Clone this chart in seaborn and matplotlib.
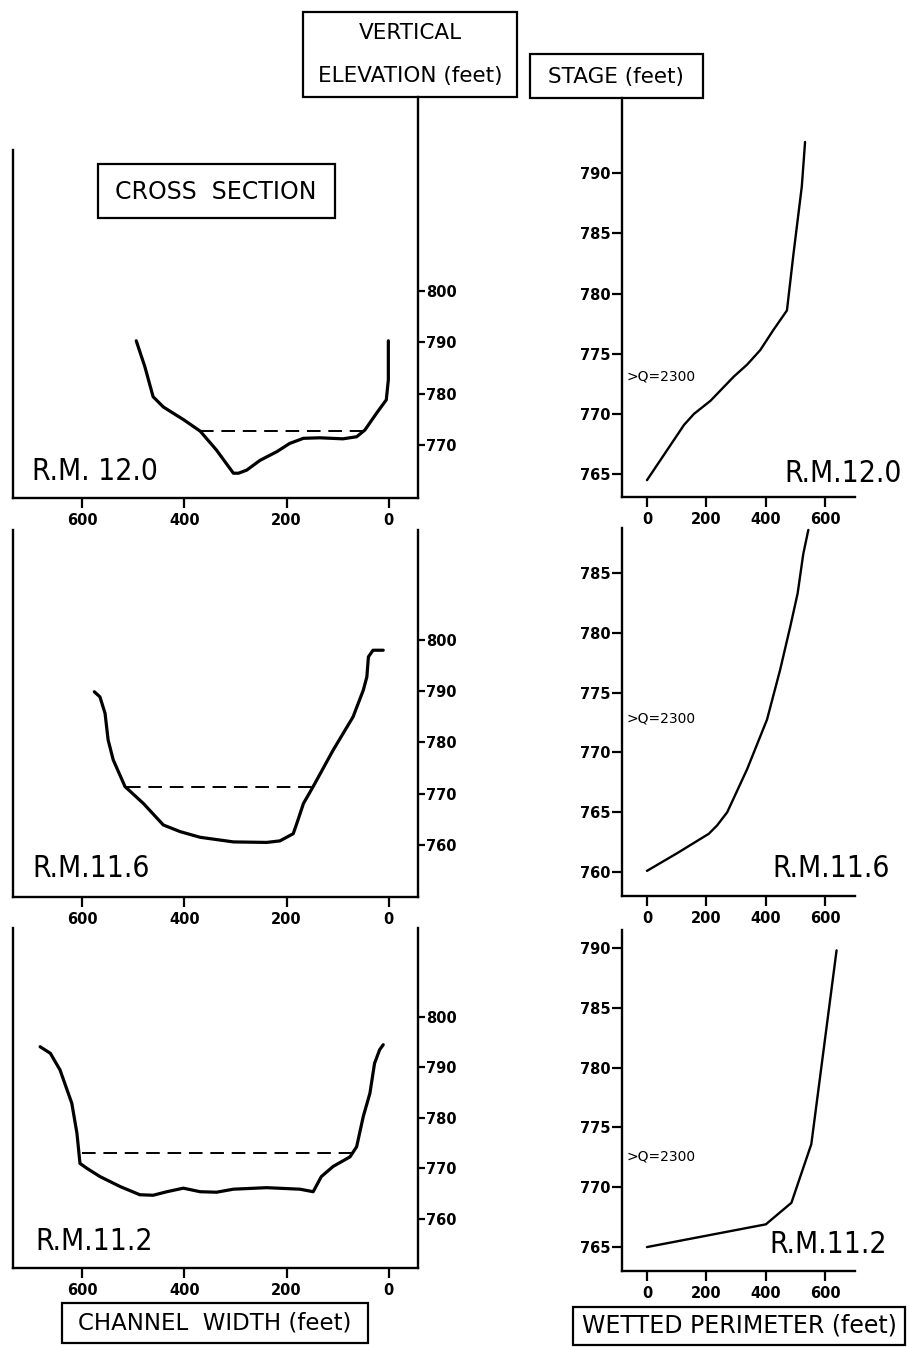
import numpy as np
import pandas as pd
import matplotlib.pyplot as plt
import seaborn as sns
from matplotlib.patches import Rectangle
from matplotlib import font_manager

# cross sections: channel width (ft from right bank) vs elevation (ft)
xs_120_width = [494, 477, 461, 441, 401, 369, 337, 304, 294, 278, 252, 219, 194, 167, 135, 90, 63, 47, 24, 5, 1, 1]
xs_120_elev = [790.3, 785.2, 779.4, 777.4, 774.9, 772.7, 769.0, 764.5, 764.5, 765.1, 767.0, 768.7, 770.3, 771.3,
               771.4, 771.2, 771.6, 772.9, 776.2, 778.8, 782.7, 790.3]
xs_116_width = [576, 565, 555, 549, 539, 516, 480, 441, 408, 369, 304, 239, 213, 187, 180, 167, 148, 109, 70, 50,
                43, 40, 31, 11]
xs_116_elev = [789.9, 788.9, 785.7, 780.5, 776.6, 771.4, 768.1, 763.9, 762.6, 761.5, 760.6, 760.5, 760.8, 762.2,
               764.2, 768.1, 771.4, 778.5, 785.0, 790.2, 792.8, 796.7, 798.0, 798.0]
xs_112_width = [682, 662, 643, 620, 610, 604, 590, 565, 525, 487, 461, 434, 402, 369, 337, 304, 239, 174, 148, 132,
                109, 76, 63, 50, 37, 28, 18, 11]
xs_112_elev = [794.1, 792.8, 789.5, 782.9, 777.0, 771.0, 770.0, 768.4, 766.4, 764.8, 764.7, 765.4, 766.1, 765.4,
               765.3, 765.9, 766.2, 765.9, 765.4, 768.4, 770.4, 772.3, 774.3, 780.3, 784.9, 790.8, 793.5, 794.5]

# water surface at Q = 2300
wl_120_width = [369, 51]
wl_116_width = [512, 151]
wl_112_width = [600, 73]
wl_elev = [772.7, 771.4, 773.0]

# stage vs wetted perimeter
wp_120 = [0, 125, 158, 214, 292, 337, 381, 426, 471, 493, 521, 532]
st_120 = [764.5, 769.1, 770.0, 771.1, 773.1, 774.1, 775.3, 777.0, 778.6, 783.3, 788.9, 792.6]
wp_116 = [0, 103, 208, 236, 270, 337, 404, 448, 482, 507, 526, 543]
st_116 = [760.1, 761.6, 763.2, 763.9, 765.0, 768.6, 772.75, 776.9, 780.5, 783.3, 786.6, 788.6]
wp_112 = [0, 400, 486, 553, 638]
st_112 = [765.0, 766.9, 768.7, 773.6, 789.8]
q_stage = [773.1, 772.8, 772.6]

stations = ["R.M. 12.0", "R.M.11.6", "R.M.11.2"]
stations_right = ["R.M.12.0", "R.M.11.6", "R.M.11.2"]

W, H = 910, 1347
sns.set_style("ticks")
plt.rcParams['font.family'] = ['DejaVu Sans']
plt.rcParams['text.color'] = 'black'
plt.rcParams['xtick.color'] = 'black'
plt.rcParams['ytick.color'] = 'black'
plt.rcParams['axes.edgecolor'] = 'black'

# the R.M. labels are a tall, narrow lettering; use a condensed face if one is there
rm_font, rm_size, rm_stretch = 'DejaVu Sans', 19, 'normal'
for f in font_manager.fontManager.ttflist:
    if f.name == 'Liberation Sans Narrow':
        rm_font, rm_size, rm_stretch = 'Liberation Sans Narrow', 25, 'normal'
        break
    if f.name == 'DejaVu Sans' and f.stretch == 'condensed' and f.weight == 400:
        rm_font, rm_size, rm_stretch = 'DejaVu Sans', 21.5, 'condensed'

fig = plt.figure(figsize=(W / 100, H / 100), dpi=100)


def fx(x):
    return x / W


def fy(y):
    return 1 - y / H


def add_ax(x0, y0, x1, y1):
    return fig.add_axes([fx(x0), fy(y1), (x1 - x0) / W, (y1 - y0) / H])


def box(x0, y0, x1, y1):
    fig.patches.append(Rectangle((fx(x0), fy(y1)), (x1 - x0) / W, (y1 - y0) / H, fill=False,
                                 lw=1.6, ec='black', transform=fig.transFigure, figure=fig))


lw_spine = 1.7

# ---- left column: cross sections
left_boxes = [(97, 498), (530, 897), (928, 1268)]
left_ylims = [(759.67, 837.8), (749.85, 821.46), (750.3, 817.6)]
left_yticks = [[770, 780, 790, 800], [760, 770, 780, 790, 800], [760, 770, 780, 790, 800]]
xs_data = [(xs_120_width, xs_120_elev), (xs_116_width, xs_116_elev), (xs_112_width, xs_112_elev)]
wl_data = [wl_120_width, wl_116_width, wl_112_width]
left_lab = [(32, 480), (32, 877), (35, 1250)]

for i in range(3):
    y0, y1 = left_boxes[i]
    ax = add_ax(13, y0, 418, y1)
    df = pd.DataFrame({'width': xs_data[i][0], 'elev': xs_data[i][1]})
    sns.lineplot(data=df, x='width', y='elev', sort=False, estimator=None, color='black', lw=2.3, ax=ax)
    wl = pd.DataFrame({'width': wl_data[i], 'elev': [wl_elev[i]] * 2})
    sns.lineplot(data=wl, x='width', y='elev', sort=False, estimator=None, color='black', lw=1.4, ax=ax)
    ax.lines[-1].set_dashes([7, 4])
    ax.set_xlim(735, -57)
    ax.set_ylim(*left_ylims[i])
    ax.set_xticks([600, 400, 200, 0])
    ax.set_yticks(left_yticks[i])
    ax.yaxis.tick_right()
    ax.spines['top'].set_visible(False)
    for s in ['left', 'right', 'bottom']:
        ax.spines[s].set_linewidth(lw_spine)
    if i == 0:
        ax.spines['left'].set_bounds(left_ylims[0][0], 827.47)
    ax.tick_params(axis='x', length=7, width=1.6, pad=4, labelsize=10.5)
    ax.tick_params(axis='y', length=5, width=1.6, pad=1, labelsize=10.5)
    for t in ax.get_xticklabels() + ax.get_yticklabels():
        t.set_fontweight('bold')
    ax.set_xlabel('')
    ax.set_ylabel('')
    ax.set_facecolor('white')
    fig.text(fx(left_lab[i][0]), fy(left_lab[i][1]), stations[i], ha='left', va='baseline',
             fontsize=rm_size, family=rm_font, fontstretch=rm_stretch)

# ---- right column: stage vs wetted perimeter
right_boxes = [(98, 497), (528, 896), (930, 1271)]
right_ylims = [(763.1, 796.25), (758.0, 788.76), (763.0, 791.5)]
right_yticks = [[765, 770, 775, 780, 785, 790], [760, 765, 770, 775, 780, 785], [765, 770, 775, 780, 785, 790]]
wp_data = [(wp_120, st_120), (wp_116, st_116), (wp_112, st_112)]
right_lab = [(902, 482), (890, 877), (887, 1253)]

for i in range(3):
    y0, y1 = right_boxes[i]
    ax = add_ax(622, y0, 855, y1)
    df = pd.DataFrame({'perimeter': wp_data[i][0], 'stage': wp_data[i][1]})
    sns.lineplot(data=df, x='perimeter', y='stage', sort=False, estimator=None, color='black', lw=1.7, ax=ax)
    ax.set_xlim(-84, 700)
    ax.set_ylim(*right_ylims[i])
    ax.set_xticks([0, 200, 400, 600])
    ax.set_yticks(right_yticks[i])
    ax.spines['top'].set_visible(False)
    ax.spines['right'].set_visible(False)
    for s in ['left', 'bottom']:
        ax.spines[s].set_linewidth(lw_spine)
    ax.tick_params(axis='x', length=7, width=1.6, pad=4, labelsize=10.5)
    ax.tick_params(axis='y', length=7, width=1.6, pad=1, labelsize=10.5)
    for t in ax.get_xticklabels() + ax.get_yticklabels():
        t.set_fontweight('bold')
    ax.set_xlabel('')
    ax.set_ylabel('')
    ax.text(-68, q_stage[i], '>Q=2300', ha='left', va='center', fontsize=10)
    fig.text(fx(right_lab[i][0]), fy(right_lab[i][1]), stations_right[i], ha='right', va='baseline',
             fontsize=rm_size, family=rm_font, fontstretch=rm_stretch)

# ---- boxed titles
box(303, 12, 517, 97)
fig.text(fx(410), fy(33), 'VERTICAL', ha='center', va='center', fontsize=15.5)
fig.text(fx(410), fy(76), 'ELEVATION (feet)', ha='center', va='center', fontsize=15.5)
box(530, 54, 703, 98)
fig.text(fx(616), fy(77), 'STAGE (feet)', ha='center', va='center', fontsize=15.5)
box(98, 164, 335, 218)
fig.text(fx(216), fy(192), 'CROSS  SECTION', ha='center', va='center', fontsize=17)
box(62, 1303, 368, 1343)
fig.text(fx(215), fy(1323), 'CHANNEL  WIDTH (feet)', ha='center', va='center', fontsize=16.5)
box(573, 1307, 905, 1345)
fig.text(fx(739), fy(1326), 'WETTED PERIMETER (feet)', ha='center', va='center', fontsize=17)

fig.savefig('out.png', dpi=100, facecolor='white')
